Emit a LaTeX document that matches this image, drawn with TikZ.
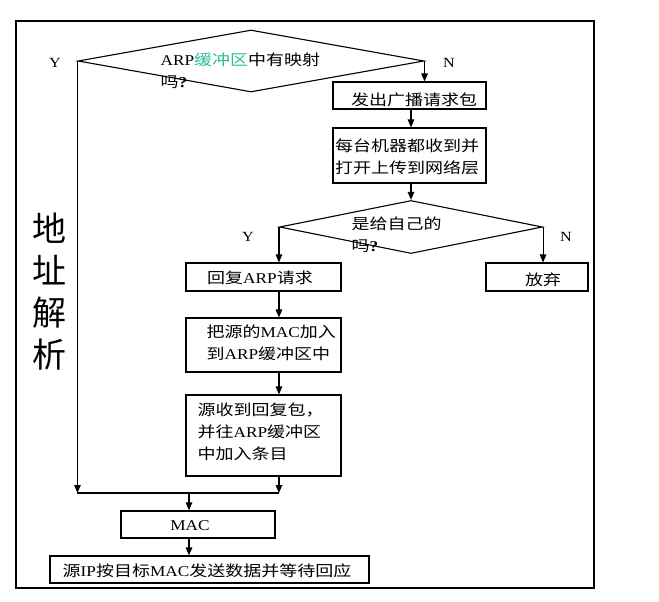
\documentclass[tikz,border=0pt]{standalone}
\usepackage{fontspec}
\setmainfont{Liberation Serif}[FakeStretch=1.15]
\newfontfamily\cjk{Noto Sans CJK SC}[FakeStretch=1.2]
\newfontfamily\cjkbig{Noto Sans CJK SC}
\usetikzlibrary{arrows.meta,shapes.geometric,calc}
\definecolor{tealtxt}{RGB}{40,190,150}
\newcommand{\lat}[1]{{\rmfamily #1}}
\begin{document}
\begin{tikzpicture}[x=1pt,y=-1pt,
  line width=1.1pt,
  arr/.style={-{Triangle[length=8pt,width=6.5pt]}},
  box/.style={draw, inner sep=0pt},
  dia/.style={draw, diamond, inner sep=0pt},
  txt/.style={inner sep=0pt, font={\fontsize{15}{22}\selectfont\cjk}},
  yn/.style={inner sep=0pt, font={\fontsize{14}{16}\selectfont\rmfamily}}]
\useasboundingbox (0,0) rectangle (659,602);
% frame
\node[draw, line width=1.2pt, minimum width=578pt, minimum height=567pt, inner sep=0pt] (frame) at (305,304.5) {};
% side title
\node[inner sep=0pt, align=center, font={\fontsize{34}{42}\selectfont\cjkbig}] (side) at (49,292) {地\\址\\解\\析};
% first decision
\node[dia, minimum width=346pt, minimum height=62pt] (d1) at (251,61) {};
\node[txt, anchor=north west, align=left] (t1) at (160,52) {\lat{ARP}\textcolor{tealtxt}{缓冲区}中有映射\\吗\lat{\textbf{?}}};
\node[yn] (y1) at (55,63) {Y};
\node[yn] (n1) at (449,63) {N};
% broadcast
\node[box, minimum width=153pt, minimum height=27pt] (b1) at (409.5,95.5) {};
\node[txt] (t2) at (414,100) {发出广播请求包};
\node[box, minimum width=153pt, minimum height=55pt] (b2) at (409.5,155.5) {};
\node[txt, align=center] (t3) at (407,157) {每台机器都收到并\\打开上传到网络层};
% second decision
\node[dia, minimum width=263pt, minimum height=53pt] (d2) at (411,227) {};
\node[txt, anchor=north west, align=left] (t4) at (351,216) {是给自己的\\吗\lat{\textbf{?}}};
\node[yn] (y2) at (248,237) {Y};
\node[yn] (n2) at (566,237) {N};
% reply branch
\node[box, minimum width=155pt, minimum height=28pt] (b3) at (263.5,277) {};
\node[txt] (t5) at (260,278) {回复\lat{ARP}请求};
\node[box, minimum width=102pt, minimum height=28pt] (ab) at (537,277) {};
\node[txt] (t6) at (543,280) {放弃};
\node[box, minimum width=155pt, minimum height=54pt] (b4) at (263.5,345) {};
\node[txt, anchor=north west, align=left] (t7) at (206,324) {把源的\lat{MAC}加入\\到\lat{ARP}缓冲区中};
\node[box, minimum width=155pt, minimum height=81pt] (b5) at (263.5,435.5) {};
\node[txt, anchor=north west, align=left] (t8) at (197,402) {源收到回复包，\\并往\lat{ARP}缓冲区\\中加入条目};
% bottom
\node[box, minimum width=154pt, minimum height=27pt] (mac) at (198,524.5) {};
\node[yn, font={\fontsize{15}{16}\selectfont\rmfamily}] (t9) at (190,526) {MAC};
\node[box, minimum width=319pt, minimum height=27pt] (last) at (209.5,569.5) {};
\node[txt] (t10) at (207,571) {源\lat{IP}按目标\lat{MAC}发送数据并等待回应};
% connectors
\coordinate (jy) at (0,493);
\coordinate (jm) at (189,493);
\draw[arr] (d1.east) -- (d1.east |- b1.north);
\draw[arr] (b1.south -| d2.north) -- (b2.north -| d2.north);
\draw[arr] (b2.south -| d2.north) -- (d2.north);
\draw[arr] (d2.west) -- (d2.west |- b3.north);
\draw[arr] (d2.east) -- (d2.east |- ab.north);
\draw[arr] (d2.west |- b3.south) -- (d2.west |- b4.north);
\draw[arr] (d2.west |- b4.south) -- (d2.west |- b5.north);
\draw[arr] (d2.west |- b5.south) -- (d2.west |- jy);
\draw[arr] (d1.west) -- (d1.west |- jy);
\draw (d1.west |- jy) -- (d2.west |- jy);
\draw[arr] (jm) -- (jm |- mac.north);
\draw[arr] (jm |- mac.south) -- (jm |- last.north);
\end{tikzpicture}
\end{document}
